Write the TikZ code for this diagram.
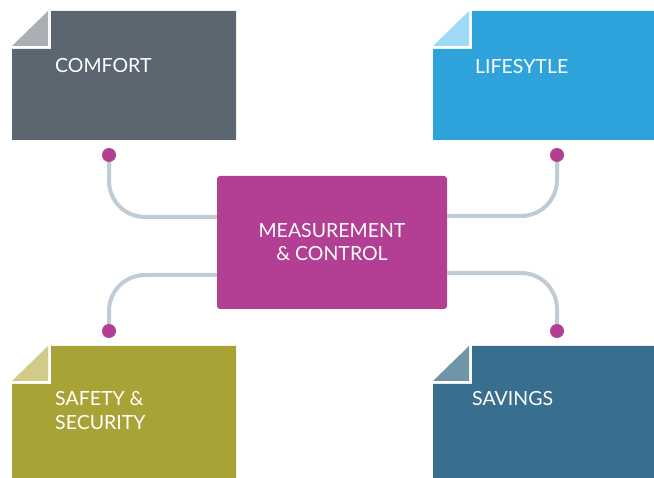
\documentclass[tikz,border=0pt]{standalone}
\usepackage{fontspec}
\setmainfont{Lato}
\usetikzlibrary{calc}
\definecolor{cgrey}{HTML}{5B6670}
\definecolor{cgreyl}{HTML}{A9AFB4}
\definecolor{cblue}{HTML}{2EA3DB}
\definecolor{cbluel}{HTML}{9ED9F5}
\definecolor{colive}{HTML}{A8A337}
\definecolor{colivel}{HTML}{D0CB88}
\definecolor{cnavy}{HTML}{386E8E}
\definecolor{cnavyl}{HTML}{6F95A6}
\definecolor{cmag}{HTML}{B23F93}
\definecolor{cline}{HTML}{BFCBD5}
\tikzset{
  lbl/.style={text=white, font=\fontsize{19.5}{24}\selectfont, anchor=west, inner sep=0pt, align=left},
  dot/.style={circle, fill=cmag, minimum size=14pt, inner sep=0pt},
  conn/.style={draw=cline, line width=4pt, rounded corners=36pt},
}
\begin{document}
\begin{tikzpicture}[x=1pt,y=-1pt]
\useasboundingbox (0,0) rectangle (654,478);
% note boxes: #1 left, #2 top, #3 right, #4 bottom
\newcommand{\notebox}[6]{%
  \fill[#5] (#1+39,#2) -- (#3,#2) -- (#3,#4) -- (#1,#4) -- (#1,#2+38) -- (#1+39,#2+38) -- cycle;
  \fill[#6] (#1,#2+35) -- (#1+36,#2) -- (#1+36,#2+35) -- cycle;}
\notebox{12}{11}{236}{140}{cgrey}{cgreyl}
\notebox{433}{11}{654}{140}{cblue}{cbluel}
\notebox{12}{346}{236}{478}{colive}{colivel}
\notebox{433}{346}{654}{478}{cnavy}{cnavyl}
\node[lbl] (comfort) at (55,66) {COMFORT};
\node[lbl] (life) at (475,67) {LIFESYTLE};
\node[lbl] (safety) at (55,411) {SAFETY \&\\SECURITY};
\node[lbl] (savings) at (472,399) {SAVINGS};
% centre
\node[fill=cmag, rounded corners=3pt, minimum width=230pt, minimum height=133pt, inner sep=0pt,
  text=white, font=\fontsize{19.5}{23}\selectfont, align=center] (c) at (332,242.5) {MEASUREMENT\\\& CONTROL};
% dots
\node[dot] (d1) at (109,155) {};
\node[dot] (d2) at (557,155) {};
\node[dot] (d3) at (109,331) {};
\node[dot] (d4) at (557,331) {};
% connectors
\path (c.west) ++(0,-25.5) coordinate (l1);
\path (c.west) ++(0,32.5) coordinate (l2);
\path (c.east) ++(0,-26.5) coordinate (r1);
\path (c.east) ++(0,30.5) coordinate (r2);
\draw[conn] (d1.south) |- (l1);
\draw[conn] (d3.north) |- (l2);
\draw[conn] (d2.south) |- (r1);
\draw[conn] (d4.north) |- (r2);
\end{tikzpicture}
\end{document}
